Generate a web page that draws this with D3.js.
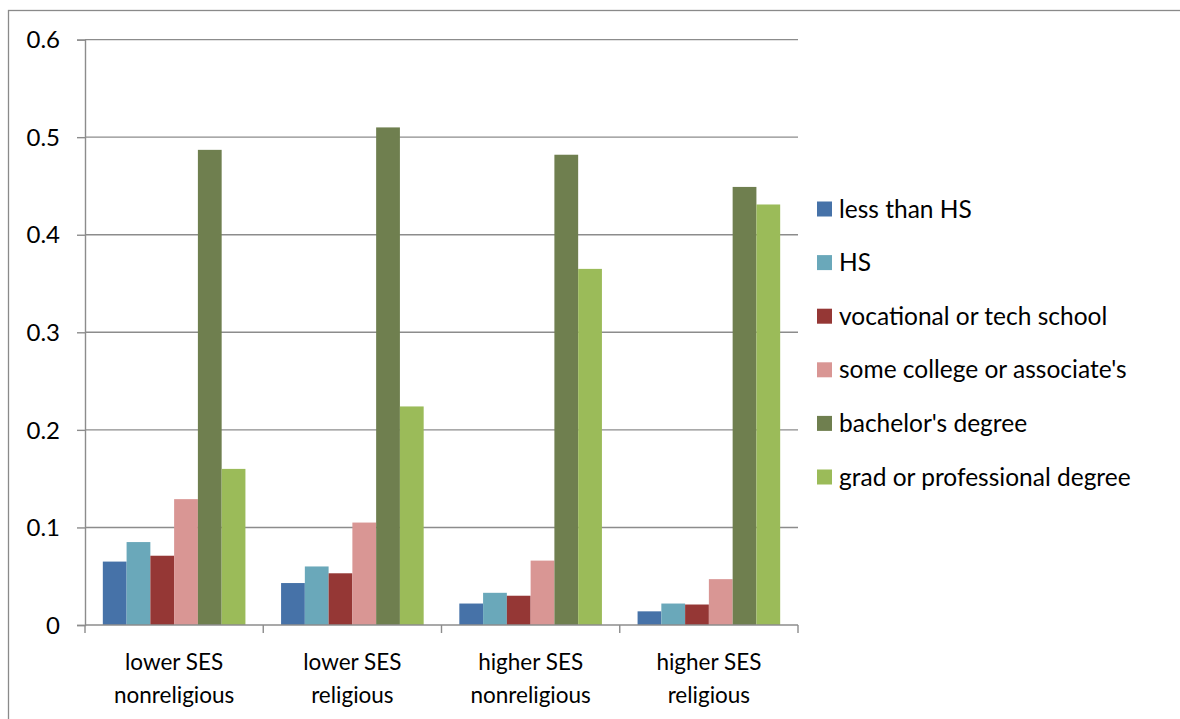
<!DOCTYPE html>
<html>
<head>
<meta charset="utf-8">
<script src="https://cdn.jsdelivr.net/npm/d3@7"></script>
<style>
  body { margin: 0; background: #fff; }
  text { font-family: Lato, "Open Sans", sans-serif; fill: #000; }
</style>
</head>
<body>
<svg id="chart" width="1180" height="719"></svg>
<script>
// categories on the x axis (two-line labels)
const groups = ["lower SES|nonreligious", "lower SES|religious", "higher SES|nonreligious", "higher SES|religious"];
const seriesNames = ["less than HS", "HS", "vocational or tech school", "some college or associate's", "bachelor's degree", "grad or professional degree"];
const seriesColors = ["#4672a8", "#6aa8ba", "#953735", "#d99694", "#6f7f4f", "#9bbb59"];

// one array per series, values for each group
const lessThanHS = [0.065, 0.043, 0.022, 0.014];
const hs = [0.085, 0.060, 0.033, 0.022];
const vocational = [0.071, 0.053, 0.030, 0.021];
const someCollege = [0.129, 0.105, 0.066, 0.047];
const bachelors = [0.487, 0.510, 0.482, 0.449];
const gradProf = [0.160, 0.224, 0.365, 0.431];
const yTicks = [0, 0.1, 0.2, 0.3, 0.4, 0.5, 0.6];

const seriesValues = [lessThanHS, hs, vocational, someCollege, bachelors, gradProf];

const svg = d3.select("#chart");

// chart area border
svg.append("rect")
  .attr("x", 8.5).attr("y", 10.5)
  .attr("width", 1180).attr("height", 720)
  .attr("fill", "none").attr("stroke", "#8a8a8a").attr("stroke-width", 1.3);

const plotLeft = 85, plotRight = 798, plotTop = 39.6, plotBottom = 625;

const y = d3.scaleLinear().domain([0, 0.6]).range([plotBottom, plotTop]);
const x0 = d3.scaleBand().domain(groups).range([plotLeft, plotRight]).padding(0);
const x1 = d3.scaleBand().domain(seriesNames).range([0, x0.bandwidth()])
  .paddingInner(0).paddingOuter(0.75);

// gridlines
svg.append("g").selectAll("line")
  .data(yTicks.filter(d => d > 0))
  .join("line")
  .attr("x1", plotLeft).attr("x2", plotRight)
  .attr("y1", d => y(d)).attr("y2", d => y(d))
  .attr("stroke", "#8c8c8c").attr("stroke-width", 1.4);

// bars
const table = groups.map((g, gi) => seriesNames.map((s, si) => ({ group: g, series: s, value: seriesValues[si][gi], color: seriesColors[si] })));

svg.append("g").selectAll("g")
  .data(table)
  .join("g")
  .attr("transform", (d, i) => `translate(${x0(groups[i])},0)`)
  .selectAll("rect")
  .data(d => d)
  .join("rect")
  .attr("x", d => x1(d.series))
  .attr("y", d => y(d.value))
  .attr("width", x1.bandwidth())
  .attr("height", d => y(0) - y(d.value))
  .attr("fill", d => d.color);

// y axis
const yAxis = svg.append("g").attr("transform", `translate(${plotLeft},0)`)
  .call(d3.axisLeft(y).tickValues(yTicks).tickFormat(d => d === 0 ? "0" : d3.format(".1f")(d)).tickSize(8).tickPadding(17));
yAxis.select(".domain").attr("stroke", "#8c8c8c").attr("stroke-width", 1.4);
yAxis.selectAll(".tick line").attr("stroke", "#8c8c8c").attr("stroke-width", 1.4);
yAxis.selectAll(".tick text").attr("font-size", 24).attr("font-family", "Lato, sans-serif").attr("fill", "#000").attr("dy", "0.34em");

// x axis line and category ticks
svg.append("line")
  .attr("x1", plotLeft).attr("x2", plotRight).attr("y1", plotBottom).attr("y2", plotBottom)
  .attr("stroke", "#8c8c8c").attr("stroke-width", 1.4);
svg.append("g").selectAll("line")
  .data(groups.map(g => x0(g)).concat([plotRight]))
  .join("line")
  .attr("x1", d => d).attr("x2", d => d)
  .attr("y1", plotBottom).attr("y2", plotBottom + 8)
  .attr("stroke", "#8c8c8c").attr("stroke-width", 1.4);

// x labels
svg.append("g").selectAll("text")
  .data(groups)
  .join("text")
  .attr("text-anchor", "middle")
  .attr("font-size", 22.5)
  .each(function (g) {
    const parts = g.split("|");
    const t = d3.select(this);
    parts.forEach((p, i) => {
      t.append("tspan")
        .attr("x", x0(g) + x0.bandwidth() / 2)
        .attr("y", 670 + i * 33)
        .text(p);
    });
  });

// legend
const legend = svg.append("g").selectAll("g")
  .data(seriesNames)
  .join("g")
  .attr("transform", (d, i) => `translate(817,${209 + i * 53.6})`);
legend.append("rect")
  .attr("x", 0).attr("y", -7.5)
  .attr("width", 15).attr("height", 15)
  .attr("fill", (d, i) => seriesColors[i]);
legend.append("text")
  .attr("x", 22).attr("y", 8.5)
  .attr("font-size", 24.5)
  .text(d => d);
</script>
</body>
</html>
